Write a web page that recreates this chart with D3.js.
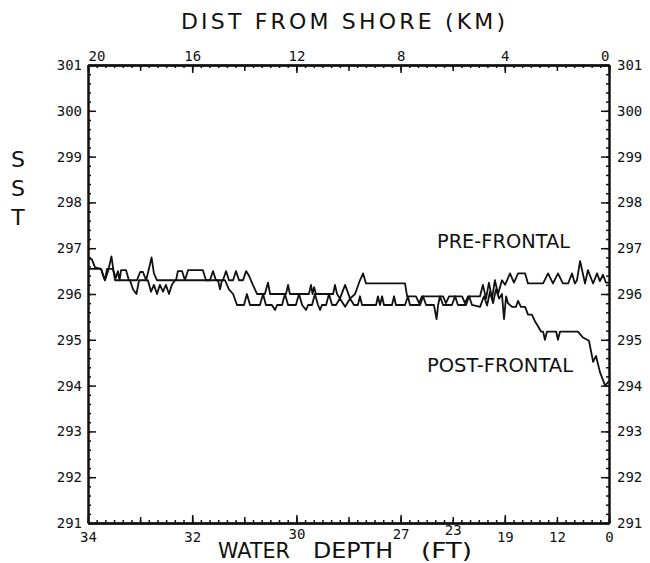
<!DOCTYPE html>
<html><head><meta charset="utf-8">
<script src="https://cdn.jsdelivr.net/npm/d3@7"></script>
<style>
body{margin:0;background:#fff;}
svg{display:block;font-family:"DejaVu Sans Mono","Liberation Mono",monospace;}
</style></head>
<body><svg id="c" width="650" height="563"></svg>
<script>
// ---- data (distance from shore in km, SST in K) ----
const preKm = [20.00,19.85,19.73,19.50,19.42,19.35,19.23,19.10,19.02,18.93,18.85,18.79,18.73,18.54,18.43,18.12,18.00,17.89,17.77,17.66,17.56,17.47,17.35,16.62,16.55,16.39,16.28,16.16,15.59,15.47,15.32,15.20,15.09,14.82,14.70,14.59,14.43,14.32,14.20,14.05,13.93,13.82,13.67,13.51,13.21,13.09,13.01,12.40,12.32,12.25,11.52,11.44,11.38,11.32,11.25,10.59,10.52,10.44,10.33,10.13,9.94,9.75,9.56,9.44,9.33,7.83,7.75,7.41,7.29,7.18,6.37,6.26,6.14,5.64,5.53,5.41,4.95,4.84,4.72,4.61,4.49,4.38,4.26,4.11,3.99,3.80,3.65,3.49,3.22,3.11,2.53,2.34,2.15,1.96,1.77,1.57,1.42,1.31,1.23,1.11,0.92,0.81,0.61,0.46,0.35,0.23,0.12,0.00];
const preSst = [296.8,296.75,296.58,296.55,296.42,296.3,296.5,296.82,296.5,296.35,296.5,296.3,296.52,296.52,296.3,296.3,296.48,296.48,296.3,296.55,296.8,296.45,296.3,296.3,296.5,296.5,296.3,296.52,296.52,296.3,296.3,296.5,296.3,296.3,296.5,296.3,296.3,296.5,296.3,296.3,296.5,296.4,296.2,296.0,296.0,296.25,296.0,296.0,296.2,296.0,296.0,296.2,296.0,296.15,296.0,296.0,296.2,296.0,295.9,296.2,295.9,296.0,296.3,296.45,296.23,296.23,295.95,295.95,295.8,295.95,295.95,295.8,295.95,295.95,295.8,295.95,295.95,296.2,295.9,296.25,295.9,296.3,296.0,296.3,296.2,296.45,296.25,296.45,296.45,296.23,296.23,296.45,296.23,296.45,296.23,296.23,296.45,296.23,296.3,296.72,296.23,296.52,296.23,296.45,296.28,296.42,296.25,296.25];

const postKm = [20.00,19.50,19.42,19.35,19.27,19.04,18.96,18.39,18.27,18.14,18.04,17.70,17.58,17.47,17.35,17.24,17.12,17.01,16.89,16.78,16.66,15.01,14.93,14.86,14.74,14.59,14.43,14.28,14.01,13.90,13.78,13.55,13.40,13.28,13.17,12.94,12.82,12.74,12.55,12.44,12.32,12.02,11.90,11.78,11.63,11.55,11.40,11.29,11.17,11.09,11.02,10.86,10.75,10.63,10.48,10.33,10.13,9.94,9.79,9.64,9.56,9.48,8.94,8.87,8.79,8.71,8.64,8.33,8.25,8.18,7.83,7.72,7.64,7.25,7.14,7.02,6.72,6.62,6.56,6.49,6.37,6.03,5.91,5.80,5.49,5.37,5.26,4.95,4.80,4.68,4.57,4.45,4.34,4.22,4.11,4.03,3.95,3.88,3.72,3.57,3.49,3.38,3.22,3.11,2.96,2.84,2.73,2.61,2.53,2.46,2.38,2.03,1.96,1.88,1.19,1.00,0.77,0.61,0.50,0.35,0.15,0.00];
const postSst = [296.55,296.55,296.4,296.3,296.55,296.55,296.3,296.3,296.1,296.0,296.3,296.3,296.05,296.2,296.0,296.2,296.05,296.2,296.0,296.2,296.3,296.3,296.1,296.3,296.3,296.1,296.0,295.76,295.76,296.0,295.76,295.76,295.76,296.0,295.76,295.76,295.65,295.76,295.76,296.0,295.76,295.76,296.0,295.76,295.65,295.76,295.76,296.0,295.76,295.65,295.76,295.76,296.0,295.76,295.76,295.9,295.72,295.9,295.76,295.76,295.95,295.76,295.76,295.95,295.76,295.95,295.76,295.76,295.95,295.76,295.76,295.95,295.76,295.76,295.95,295.76,295.76,295.45,295.76,295.95,295.76,295.76,295.95,295.76,295.76,295.95,295.76,295.72,295.95,295.75,296.05,295.8,296.1,295.9,296.0,295.45,295.95,295.8,295.72,295.72,295.85,295.72,295.72,295.55,295.55,295.4,295.3,295.18,295.18,295.0,295.18,295.18,295.0,295.18,295.18,295.05,294.98,294.52,294.65,294.3,294.0,294.1];

// ---- axis tick values / labels ----
const topTickKm = [20,16,12,8,4,0];
const topTickLabels = ["20","16","12","8","4","0"];
const bottomTickKm = [20,16,12,8,6,4,2,0];
const bottomTickLabels = ["34","32","30","27","23","19","12","0"];
const sstTicks = [291,292,293,294,295,296,297,298,299,300,301];
const seriesNames = ["PRE-FRONTAL","POST-FRONTAL"];
const bottomTitleWords = ["WATER","DEPTH","(FT)"];

const svg = d3.select("#c");
svg.append("rect").attr("width",650).attr("height",563).attr("fill","#fff");

const L=88,R=609,T=65,B=523;
const x = d3.scaleLinear().domain([20,0]).range([L,R]);
const y = d3.scaleLinear().domain([291,301]).range([B,T]);

const minorKm = d3.range(0,61).map(i=>i/3);
const midKm = d3.range(0,11).map(i=>i*2);
const minorSst = d3.range(0,51).map(i=>291+i*0.2);

const SANS = "DejaVu Sans, sans-serif";
const MONO = "DejaVu Sans Mono, monospace";

function style(g){
  g.attr("font-family",MONO).attr("font-size",14);
  g.selectAll("path.domain").attr("stroke","#111").attr("stroke-width",2);
  g.selectAll(".tick line").attr("stroke","#111").attr("stroke-width",1.5);
  g.selectAll(".tick text").attr("fill","#111");
}
// top axis
svg.append("g").attr("transform",`translate(0,${T})`)
  .call(d3.axisTop(x).tickValues(minorKm).tickSize(-3).tickSizeOuter(0).tickFormat(""))
  .call(style);
svg.append("g").attr("transform",`translate(0,${T})`)
  .call(d3.axisTop(x).tickValues(midKm).tickSize(-6).tickSizeOuter(0).tickFormat(""))
  .call(style);
const topAx = svg.append("g").attr("transform",`translate(0,${T})`)
  .call(d3.axisTop(x).tickValues(topTickKm).tickSize(-8).tickSizeOuter(0).tickPadding(4)
    .tickFormat((d,i)=>topTickLabels[i]))
  .call(style);
topAx.selectAll(".tick text").filter(d=>d===20).attr("text-anchor","start");
topAx.selectAll(".tick text").filter(d=>d===0).attr("text-anchor","end");

// bottom axis
svg.append("g").attr("transform",`translate(0,${B})`)
  .call(d3.axisBottom(x).tickValues(minorKm).tickSize(-3).tickSizeOuter(0).tickFormat(""))
  .call(style);
svg.append("g").attr("transform",`translate(0,${B})`)
  .call(d3.axisBottom(x).tickValues(midKm).tickSize(-6).tickSizeOuter(0).tickFormat(""))
  .call(style);
svg.append("g").attr("transform",`translate(0,${B})`)
  .call(d3.axisBottom(x).tickValues(topTickKm).tickSize(-8).tickSizeOuter(0).tickFormat(""))
  .call(style);
const botLab = svg.append("g").attr("transform",`translate(0,${B})`)
  .call(d3.axisBottom(x).tickValues(bottomTickKm).tickSize(0).tickSizeOuter(0).tickPadding(9)
    .tickFormat((d,i)=>bottomTickLabels[i]))
  .call(style);
botLab.select("path.domain").remove();
botLab.selectAll(".tick text").filter(d=>d===12).attr("y",6);
botLab.selectAll(".tick text").filter(d=>d===6).attr("y",2);
botLab.selectAll(".tick text").filter(d=>d===8).attr("y",6);

// left axis
svg.append("g").attr("transform",`translate(${L},0)`)
  .call(d3.axisLeft(y).tickValues(minorSst).tickSize(-3).tickSizeOuter(0).tickFormat(""))
  .call(style);
svg.append("g").attr("transform",`translate(${L},0)`)
  .call(d3.axisLeft(y).tickValues(sstTicks).tickSize(-8).tickSizeOuter(0).tickPadding(6)
    .tickFormat(d3.format("d")))
  .call(style);
// right axis
svg.append("g").attr("transform",`translate(${R},0)`)
  .call(d3.axisRight(y).tickValues(minorSst).tickSize(-3).tickSizeOuter(0).tickFormat(""))
  .call(style);
svg.append("g").attr("transform",`translate(${R},0)`)
  .call(d3.axisRight(y).tickValues(sstTicks).tickSize(-8).tickSizeOuter(0).tickPadding(8)
    .tickFormat(d3.format("d")))
  .call(style);

// series lines
const line = d3.line().x(d=>x(d[0])).y(d=>y(d[1]));
const series = [d3.zip(preKm,preSst), d3.zip(postKm,postSst)];
svg.append("g").selectAll("path").data(series).join("path")
  .attr("d",line).attr("fill","none").attr("stroke","#111")
  .attr("stroke-width",1.8).attr("stroke-linejoin","round");

// titles
svg.append("text").attr("x",181).attr("y",29).attr("font-size",22).attr("font-family",SANS)
  .attr("fill","#111").attr("textLength",324).attr("lengthAdjust","spacing").text("DIST FROM SHORE  (KM)");
const btPos = [[218,72],[313,80],[421,51]];
svg.append("g").selectAll("text").data(bottomTitleWords).join("text")
  .attr("x",(d,i)=>btPos[i][0]).attr("y",558).attr("font-size",21).attr("font-family",SANS)
  .attr("fill","#111").attr("textLength",(d,i)=>btPos[i][1]).attr("lengthAdjust","spacingAndGlyphs")
  .text(d=>d);
// series labels
svg.append("text").attr("x",437).attr("y",248).attr("font-size",20).attr("font-family",SANS)
  .attr("fill","#111").attr("textLength",133).attr("lengthAdjust","spacingAndGlyphs").text(seriesNames[0]);
svg.append("text").attr("x",427).attr("y",372).attr("font-size",20).attr("font-family",SANS)
  .attr("fill","#111").attr("textLength",146).attr("lengthAdjust","spacingAndGlyphs").text(seriesNames[1]);
// y label stacked
const yl = "SST".split("");
svg.append("g").selectAll("text").data(yl).join("text")
  .attr("x",18).attr("y",(d,i)=>167+i*29).attr("text-anchor","middle")
  .attr("font-size",22).attr("font-family",SANS).attr("fill","#111")
  .text(d=>d);
</script></body></html>
